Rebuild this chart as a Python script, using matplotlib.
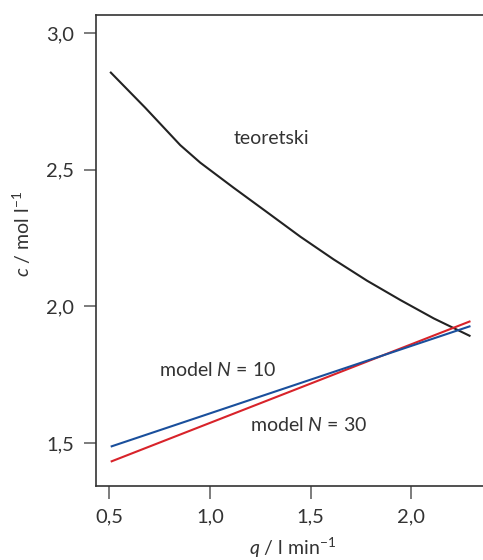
import matplotlib
matplotlib.use("Agg")
import matplotlib.pyplot as plt
import numpy as np

plt.rcParams['font.family'] = ['Lato', 'DejaVu Sans']
plt.rcParams['mathtext.fontset'] = 'custom'
plt.rcParams['mathtext.rm'] = 'Lato'
plt.rcParams['mathtext.it'] = 'Lato:italic'

# Data
q_teor = [0.505, 0.679, 0.853, 0.952, 1.118, 1.283, 1.449, 1.614, 1.780, 1.946, 2.111, 2.293]
c_teor = [2.858, 2.727, 2.590, 2.526, 2.434, 2.345, 2.255, 2.172, 2.094, 2.023, 1.956, 1.891]
q_model = [0.508, 2.293]
c_n10 = [1.487, 1.928]
c_n30 = [1.432, 1.946]

xticks = [0.5, 1.0, 1.5, 2.0]
xticklabels = ["0,5", "1,0", "1,5", "2,0"]
yticks = [1.5, 2.0, 2.5, 3.0]
yticklabels = ["1,5", "2,0", "2,5", "3,0"]

W, H = 483, 560
fig = plt.figure(figsize=(W / 100, H / 100), dpi=100)
left, top, bottom, right = 96, 15, 486, 488
ax = fig.add_axes([left / W, 1 - bottom / H, (right - left) / W, (bottom - top) / H])

ax.plot(q_teor, c_teor, color="#222222", lw=1.5, solid_capstyle="butt", solid_joinstyle="round")
ax.plot(q_model, c_n30, color="#d8232a", lw=1.5, solid_capstyle="butt")
ax.plot(q_model, c_n10, color="#1a4f9c", lw=1.5, solid_capstyle="butt")

ax.set_xlim(0.435, 2.38)
ax.set_ylim(1.343, 3.066)

ax.set_xticks(xticks)
ax.set_xticklabels(xticklabels)
ax.set_yticks(yticks)
ax.set_yticklabels(yticklabels)

for s in ["left", "top", "bottom"]:
    ax.spines[s].set_color("#333333")
    ax.spines[s].set_linewidth(1.2)
ax.spines["right"].set_visible(False)

ax.tick_params(axis="both", direction="out", length=9, width=1.2, color="#666666",
               labelsize=14.5, labelcolor="#333333", pad=7)

txtcol = "#333333"
fs = 14
ax.text(1.305, 2.616, "teoretski", fontsize=fs, color=txtcol, ha="center", va="center")
ax.text(1.036, 1.767, r"model $N$ = 10", fontsize=fs, color=txtcol, ha="center", va="center")
ax.text(1.489, 1.566, r"model $N$ = 30", fontsize=fs, color=txtcol, ha="center", va="center")

ax.set_xlabel(r"$q$ / l min$^{-1}$", fontsize=fs, color=txtcol)
ax.set_ylabel(r"$c$ / mol l$^{-1}$", fontsize=fs, color=txtcol)
ax.xaxis.label.set_va("center")
ax.yaxis.label.set_va("center")
ax.xaxis.set_label_coords(0.5, -(548 - 486) / 471)
ax.yaxis.set_label_coords((22 - 96) / 392, 0.535)

fig.savefig("out.png", dpi=100)
